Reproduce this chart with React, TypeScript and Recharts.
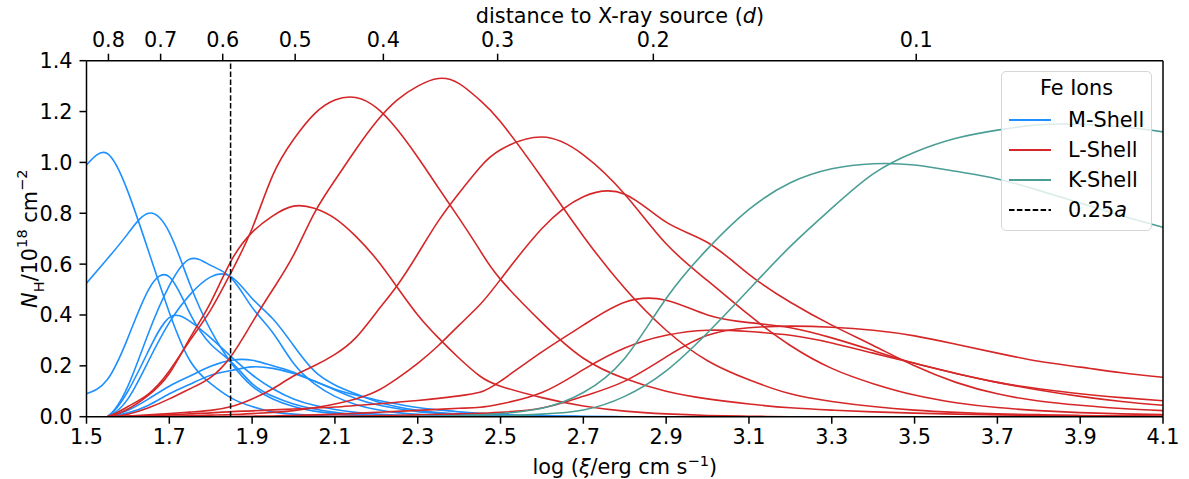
import { LineChart, Line, XAxis, YAxis, Legend, ReferenceLine, Label } from 'recharts'

const FONT = 'DejaVu Sans'
const FS = 20.8
const FS_SMALL = 14.6
const BLUE = '#1e90ff'
const RED = '#d62728'
const TEAL = '#4a9e95'

// log(xi) grid the curves were read on
const XI = [
  1.5, 1.55, 1.6, 1.65, 1.7, 1.75, 1.8, 1.85, 1.9, 1.95, 2.0, 2.05, 2.1, 2.15, 2.2, 2.25, 2.3, 2.35, 2.4, 2.45, 2.5,
  2.6, 2.7, 2.8, 2.9, 3.0, 3.1, 3.2, 3.3, 3.4, 3.5, 3.6, 3.7, 3.8, 3.9, 4.0, 4.1,
]

const z = (n: number) => Array(n).fill(0)

// M-shell ions
const M1 = [0.99, 1.035, 0.885, 0.65, 0.41, 0.22, 0.13, 0.073, 0.04, 0.019, 0.01, 0.005, 0.002, 0.001, ...z(23)]
const M2 = [0.525, 0.62, 0.72, 0.8, 0.725, 0.52, 0.34, 0.21, 0.12, 0.07, 0.04, 0.022, 0.012, 0.006, 0.003, 0.001, ...z(21)]
const M3 = [0.09, 0.145, 0.31, 0.5, 0.55, 0.405, 0.285, 0.215, 0.13, 0.08, 0.05, 0.03, 0.017, 0.009, 0.005, 0.002, ...z(21)]
const M4 = [0, 0, 0.12, 0.33, 0.515, 0.62, 0.595, 0.545, 0.43, 0.33, 0.21, 0.13, 0.08, 0.048, 0.028, 0.016, 0.009, 0.005, 0.003, 0.001, ...z(17)]
const M5 = [0, 0, 0.07, 0.22, 0.37, 0.48, 0.55, 0.55, 0.465, 0.385, 0.28, 0.18, 0.125, 0.09, 0.06, 0.039, 0.025, 0.016, 0.01, 0.006, 0.004, 0.001, ...z(15)]
const M6 = [0, 0, 0.1, 0.26, 0.39, 0.375, 0.31, 0.235, 0.165, 0.11, 0.07, 0.045, 0.028, 0.017, 0.01, 0.006, 0.003, 0.001, ...z(19)]
const M7 = [0, 0, 0.025, 0.07, 0.12, 0.16, 0.198, 0.222, 0.222, 0.2, 0.175, 0.14, 0.105, 0.072, 0.048, 0.032, 0.02, 0.013, 0.008, 0.005, 0.003, 0.001, ...z(15)]
const M8 = [0, 0, 0.015, 0.045, 0.09, 0.128, 0.163, 0.182, 0.196, 0.19, 0.17, 0.14, 0.108, 0.085, 0.066, 0.05, 0.036, 0.027, 0.019, 0.013, 0.009, 0.004, 0.002, ...z(14)]

// L-shell ions
const L1 = [0, 0, 0.03, 0.085, 0.17, 0.31, 0.45, 0.615, 0.725, 0.79, 0.828, 0.82, 0.78, 0.71, 0.62, 0.51, 0.4, 0.31, 0.23, 0.16, 0.12, 0.075, 0.042, 0.022, 0.011, 0.005, 0.002, ...z(10)]
const L2 = [0, 0, 0.04, 0.09, 0.18, 0.3, 0.42, 0.57, 0.74, 0.95, 1.09, 1.19, 1.245, 1.255, 1.215, 1.13, 1.02, 0.9, 0.78, 0.655, 0.54, 0.37, 0.23, 0.15, 0.1, 0.07, 0.05, 0.035, 0.026, 0.019, 0.014, 0.01, 0.007, 0.005, 0.004, 0.003, 0.002]
const L3 = [0, 0, 0.01, 0.035, 0.07, 0.11, 0.155, 0.24, 0.37, 0.5, 0.635, 0.8, 0.93, 1.05, 1.16, 1.245, 1.3, 1.33, 1.31, 1.245, 1.16, 0.94, 0.71, 0.505, 0.34, 0.22, 0.145, 0.09, 0.06, 0.04, 0.026, 0.017, 0.011, 0.008, 0.005, 0.003, 0.002]
const L4 = [0, 0, 0.003, 0.007, 0.012, 0.018, 0.025, 0.04, 0.07, 0.11, 0.16, 0.2, 0.245, 0.31, 0.41, 0.515, 0.64, 0.77, 0.88, 0.98, 1.05, 1.1, 1.03, 0.875, 0.68, 0.535, 0.4, 0.28, 0.19, 0.13, 0.085, 0.055, 0.036, 0.024, 0.016, 0.011, 0.008]
const L5 = [0, 0, 0.001, 0.002, 0.003, 0.004, 0.006, 0.008, 0.012, 0.017, 0.024, 0.035, 0.05, 0.07, 0.1, 0.15, 0.21, 0.28, 0.36, 0.44, 0.54, 0.74, 0.865, 0.875, 0.765, 0.685, 0.56, 0.45, 0.36, 0.28, 0.2, 0.135, 0.09, 0.062, 0.045, 0.032, 0.024]
const L6 = [0, 0, 0.002, 0.004, 0.007, 0.011, 0.015, 0.02, 0.023, 0.027, 0.03, 0.034, 0.038, 0.044, 0.05, 0.057, 0.064, 0.072, 0.082, 0.096, 0.14, 0.255, 0.36, 0.45, 0.458, 0.4, 0.37, 0.35, 0.31, 0.26, 0.21, 0.17, 0.135, 0.11, 0.09, 0.075, 0.063]
const L7 = [...z(8), 0.002, 0.003, 0.005, 0.007, 0.01, 0.013, 0.017, 0.021, 0.025, 0.029, 0.033, 0.037, 0.05, 0.095, 0.185, 0.27, 0.32, 0.34, 0.335, 0.32, 0.29, 0.25, 0.21, 0.17, 0.135, 0.105, 0.08, 0.06, 0.045]
const L8 = [...z(10), 0.001, 0.001, 0.002, 0.003, 0.004, 0.005, 0.007, 0.009, 0.011, 0.013, 0.017, 0.034, 0.08, 0.14, 0.235, 0.32, 0.35, 0.356, 0.352, 0.34, 0.318, 0.285, 0.25, 0.218, 0.195, 0.173, 0.155]

// K-shell ions
const K1 = [...z(16), 0.001, 0.002, 0.004, 0.007, 0.012, 0.033, 0.095, 0.23, 0.465, 0.66, 0.815, 0.92, 0.975, 0.995, 0.99, 0.965, 0.935, 0.89, 0.84, 0.79, 0.745]
const K2 = [...z(18), 0.001, 0.002, 0.003, 0.01, 0.026, 0.08, 0.18, 0.33, 0.5, 0.67, 0.82, 0.955, 1.04, 1.095, 1.127, 1.148, 1.15, 1.14, 1.12]

const SERIES = [
  { key: 'm1', values: M1, color: BLUE },
  { key: 'm2', values: M2, color: BLUE },
  { key: 'm3', values: M3, color: BLUE },
  { key: 'm4', values: M4, color: BLUE },
  { key: 'm5', values: M5, color: BLUE },
  { key: 'm6', values: M6, color: BLUE },
  { key: 'm7', values: M7, color: BLUE },
  { key: 'm8', values: M8, color: BLUE },
  { key: 'l1', values: L1, color: RED },
  { key: 'l2', values: L2, color: RED },
  { key: 'l3', values: L3, color: RED },
  { key: 'l4', values: L4, color: RED },
  { key: 'l5', values: L5, color: RED },
  { key: 'l6', values: L6, color: RED },
  { key: 'l7', values: L7, color: RED },
  { key: 'l8', values: L8, color: RED },
  { key: 'k1', values: K1, color: TEAL },
  { key: 'k2', values: K2, color: TEAL },
]

const X_TICKS = [1.5, 1.7, 1.9, 2.1, 2.3, 2.5, 2.7, 2.9, 3.1, 3.3, 3.5, 3.7, 3.9, 4.1]
const Y_TICKS = [0, 0.2, 0.4, 0.6, 0.8, 1.0, 1.2, 1.4]
// secondary axis: distance to the X-ray source, placed at its log(xi)
const TOP_TICK_XI = [1.553, 1.679, 1.829, 2.004, 2.217, 2.493, 2.869, 3.504]
const TOP_TICK_LABELS = ['0.8', '0.7', '0.6', '0.5', '0.4', '0.3', '0.2', '0.1']
const MARKER_XI = 1.848

const LEGEND_ITEMS = [
  { label: 'M-Shell', color: BLUE, dashed: false },
  { label: 'L-Shell', color: RED, dashed: false },
  { label: 'K-Shell', color: TEAL, dashed: false },
  { label: '0.25', italic: 'a', color: '#000', dashed: true },
]

const rows = XI.map((x, i) => {
  const row: Record<string, number> = { x }
  SERIES.forEach((s) => {
    row[s.key] = s.values[i]
  })
  return row
})

const tickStyle = { fill: '#000', fontSize: FS, fontFamily: FONT }
const axisLine = { stroke: '#000', strokeWidth: 1.5 }
const tickLine = { stroke: '#000', strokeWidth: 1.5 }

function FeLegend() {
  return (
    <div
      style={{
        boxSizing: 'border-box',
        width: 151,
        height: 160,
        border: '1.5px solid #d6d6d6',
        borderRadius: 5,
        background: 'rgba(255,255,255,0.8)',
        fontFamily: FONT,
        fontSize: FS,
        color: '#000',
        paddingTop: 3,
      }}
    >
      <div style={{ textAlign: 'center', height: 30, lineHeight: '26px' }}>Fe Ions</div>
      {LEGEND_ITEMS.map((it) => (
        <div key={it.label} style={{ display: 'flex', alignItems: 'center', height: 30 }}>
          <svg width={60} height={10} style={{ flex: 'none' }}>
            <line
              x1={7}
              x2={49}
              y1={5}
              y2={5}
              stroke={it.color}
              strokeWidth={1.8}
              strokeDasharray={it.dashed ? '5.5 2.4' : undefined}
            />
          </svg>
          <span style={{ marginLeft: 6 }}>
            {it.label}
            {it.italic ? <i>{it.italic}</i> : null}
          </span>
        </div>
      ))}
    </div>
  )
}

export default function App() {
  return (
    <div style={{ position: 'absolute', left: 0, top: 0, width: 1189, height: 479, background: '#fff' }}>
      <LineChart
        width={1189}
        height={479}
        data={rows}
        margin={{ top: 20.7, right: 26, bottom: 22.3, left: 26.5 }}
        style={{ fontFamily: FONT }}
      >
        <XAxis
          dataKey="x"
          type="number"
          domain={[1.5, 4.1]}
          ticks={X_TICKS}
          interval={0}
          tickFormatter={(v: number) => v.toFixed(1)}
          height={40}
          tickSize={7}
          tickMargin={6}
          tick={tickStyle}
          axisLine={axisLine}
          tickLine={tickLine}
          allowDataOverflow
        >
          <Label
            content={() => (
              <text x={624.75} y={474} textAnchor="middle" fontSize={FS} fontFamily={FONT} fill="#000">
                <tspan>log (</tspan>
                <tspan fontStyle="italic">ξ</tspan>
                <tspan>/erg cm s</tspan>
                <tspan fontSize={FS_SMALL} baselineShift="super">−1</tspan>
                <tspan>)</tspan>
              </text>
            )}
          />
        </XAxis>
        <XAxis
          xAxisId="top"
          orientation="top"
          dataKey="x"
          type="number"
          domain={[1.5, 4.1]}
          ticks={TOP_TICK_XI}
          interval={0}
          tickFormatter={(v: number) => TOP_TICK_LABELS[TOP_TICK_XI.indexOf(v)]}
          height={40}
          tickSize={7}
          tickMargin={7}
          tick={tickStyle}
          axisLine={axisLine}
          tickLine={tickLine}
          allowDataOverflow
        >
          <Label
            content={() => (
              <text x={620} y={23} textAnchor="middle" fontSize={FS} fontFamily={FONT} fill="#000">
                <tspan>distance to X-ray source (</tspan>
                <tspan fontStyle="italic">d</tspan>
                <tspan>)</tspan>
              </text>
            )}
          />
        </XAxis>
        <YAxis
          type="number"
          domain={[0, 1.4]}
          ticks={Y_TICKS}
          interval={0}
          tickFormatter={(v: number) => v.toFixed(1)}
          width={60}
          tickSize={7}
          tickMargin={7}
          tick={tickStyle}
          axisLine={axisLine}
          tickLine={tickLine}
          allowDataOverflow
        >
          <Label
            content={() => (
              <text
                x={30}
                y={238.7}
                transform="rotate(-90 30 238.7)"
                textAnchor="middle"
                dominantBaseline="central"
                fontSize={FS}
                fontFamily={FONT}
                fill="#000"
              >
                <tspan fontStyle="italic">N</tspan>
                <tspan fontSize={FS_SMALL} baselineShift="sub">H</tspan>
                <tspan>/10</tspan>
                <tspan fontSize={FS_SMALL} baselineShift="super">18</tspan>
                <tspan> cm</tspan>
                <tspan fontSize={FS_SMALL} baselineShift="super">−2</tspan>
              </text>
            )}
          />
        </YAxis>

        {SERIES.map((s) => (
          <Line
            key={s.key}
            type="natural"
            dataKey={s.key}
            stroke={s.color}
            strokeWidth={1.6}
            dot={false}
            activeDot={false}
            isAnimationActive={false}
          />
        ))}

        <ReferenceLine x={MARKER_XI} stroke="#000" strokeWidth={1.5} strokeDasharray="5.5 2.4" />
        <ReferenceLine x={4.1} stroke="#000" strokeWidth={1.5} />

        <Legend
          layout="vertical"
          align="center"
          verticalAlign="middle"
          content={() => <FeLegend />}
          wrapperStyle={{ left: 1001, top: 71, width: 151, height: 160 }}
        />
      </LineChart>
    </div>
  )
}
